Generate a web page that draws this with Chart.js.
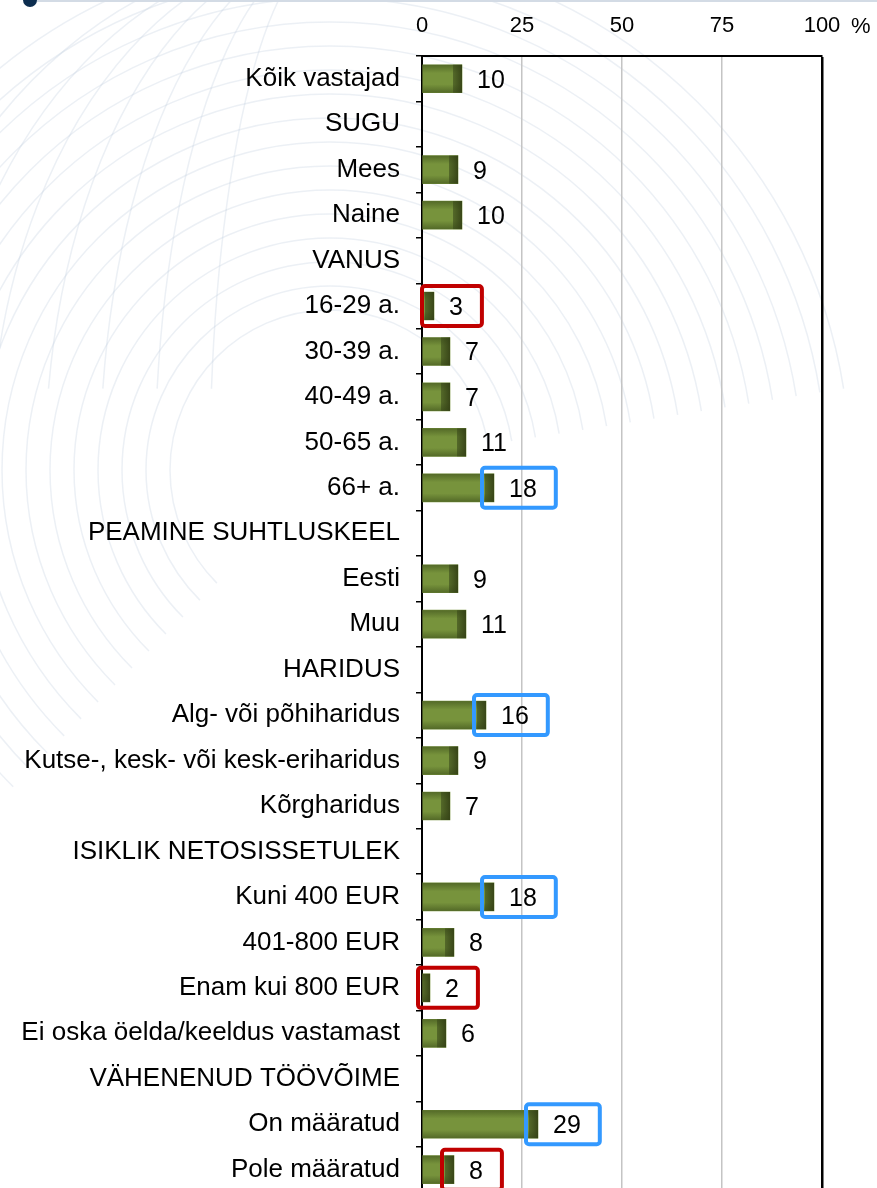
<!DOCTYPE html>
<html>
<head>
<meta charset="utf-8">
<script src="https://cdn.jsdelivr.net/npm/chart.js@4"></script>
<style>
	body { margin: 0; background: #fff; overflow: hidden; }
	#wrap { width: 877px; height: 1224px; }
</style>
</head>
<body>
<div id="wrap"><canvas id="share" width="877" height="1224"></canvas></div>
<script>
const categories = [
	"Kõik vastajad", "SUGU", "Mees", "Naine", "VANUS",
	"16-29 a.", "30-39 a.", "40-49 a.", "50-65 a.", "66+ a.",
	"PEAMINE SUHTLUSKEEL", "Eesti", "Muu", "HARIDUS",
	"Alg- või põhiharidus", "Kutse-, kesk- või kesk-eriharidus", "Kõrgharidus",
	"ISIKLIK NETOSISSETULEK", "Kuni 400 EUR", "401-800 EUR", "Enam kui 800 EUR",
	"Ei oska öelda/keeldus vastamast", "VÄHENENUD TÖÖVÕIME",
	"On määratud", "Pole määratud",
];
const values = [
	10, null, 9, 10, null,
	3, 7, 7, 11, 18,
	null, 9, 11, null,
	16, 9, 7,
	null, 18, 8, 2,
	6, null,
	29, 8,
];
const xTicks = [0, 25, 50, 75, 100];
// groups marked as clearly below / above average
const lowGroups = ["16-29 a.", "Enam kui 800 EUR", "Pole määratud"];
const highGroups = ["66+ a.", "Alg- või põhiharidus", "Kuni 400 EUR", "On määratud"];

const FONT = "Arial, 'Liberation Sans', sans-serif";

const decor = {
	id: "decor",
	beforeDraw(chart) {
		const c = chart.ctx;
		c.save();
		c.strokeStyle = "rgba(185,200,218,0.28)";
		c.lineWidth = 1.5;
		for (let r = 160; r <= 520; r += 24) {
			c.beginPath();
			c.arc(330, 470, r, Math.PI * 0.75, Math.PI * 1.95);
			c.stroke();
		}
		for (let i = 0; i < 7; i++) {
			c.beginPath();
			c.ellipse(330, 470, 120 + i * 55, 520, 0, Math.PI * 1.05, Math.PI * 1.6);
			c.stroke();
		}
		c.strokeStyle = "#d3dbe5";
		c.lineWidth = 2;
		c.beginPath();
		c.moveTo(30, 1);
		c.lineTo(877, 1);
		c.stroke();
		c.fillStyle = "#0c2d4f";
		c.beginPath();
		c.arc(30, 0, 7, 0, Math.PI * 2);
		c.fill();
		c.restore();
	},
	afterDatasetsDraw(chart) {
		const c = chart.ctx;
		const meta = chart.getDatasetMeta(0);
		c.save();
		c.font = "25px " + FONT;
		c.textBaseline = "middle";
		meta.data.forEach((bar, i) => {
			const v = values[i];
			if (v === null) return;
			const top = bar.y - bar.height / 2;
			const left = Math.min(bar.base, bar.x);
			const w = Math.abs(bar.x - bar.base);
			// shading on top and bottom
			const g = c.createLinearGradient(0, top, 0, top + bar.height);
			g.addColorStop(0, "rgba(40,55,15,0.45)");
			g.addColorStop(0.3, "rgba(40,55,15,0)");
			g.addColorStop(0.7, "rgba(40,55,15,0)");
			g.addColorStop(1, "rgba(40,55,15,0.45)");
			c.fillStyle = g;
			c.fillRect(left, top, w, bar.height);
			// dark end of the bar
			const e = Math.min(9, w);
			const h = c.createLinearGradient(bar.x - e, 0, bar.x, 0);
			h.addColorStop(0, "rgba(55,70,25,0.55)");
			h.addColorStop(1, "rgba(50,62,20,0.9)");
			c.fillStyle = h;
			c.fillRect(bar.x - e, top, e, bar.height);

			const txt = String(v);
			const tx = bar.x + 15;
			c.fillStyle = "#000";
			c.textAlign = "left";
			c.fillText(txt, tx, bar.y + 2);

			const name = categories[i];
			let col = null;
			if (lowGroups.includes(name)) col = "#c00000";
			if (highGroups.includes(name)) col = "#3399ff";
			if (col) {
				const tw = c.measureText(txt).width;
				const x0 = bar.x - 12;
				const x1 = tx + tw + 19;
				c.strokeStyle = col;
				c.lineWidth = 4;
				c.beginPath();
				c.roundRect(x0, bar.y - 20, x1 - x0, 40, 3);
				c.stroke();
			}
		});
		// percent sign next to the last tick
		const xs = chart.scales.x;
		c.font = "22px " + FONT;
		c.textAlign = "left";
		c.textBaseline = "alphabetic";
		c.fillStyle = "#000";
		c.fillText("%", xs.getPixelForValue(100) + 29, 33);
		c.restore();
	},
};

new Chart(document.getElementById("share"), {
	type: "bar",
	data: {
		labels: categories,
		datasets: [
			{
				data: values,
				backgroundColor: "#77933c",
				barThickness: 28,
				borderWidth: 0,
			},
		],
	},
	options: {
		indexAxis: "y",
		responsive: false,
		animation: false,
		layout: { padding: { right: 55, bottom: 10, left: 0, top: 0 } },
		plugins: {
			legend: { display: false },
			tooltip: { enabled: false },
		},
		scales: {
			x: {
				position: "top",
				min: 0,
				max: 100,
				afterFit(scale) { scale.height = 56; },
				afterBuildTicks(scale) {
					scale.ticks = xTicks.map((v) => ({ value: v }));
				},
				ticks: {
					color: "#000",
					font: { size: 22, family: FONT },
					padding: 17,
					maxRotation: 0,
				},
				grid: {
					drawTicks: false,
					color: (ctx) => {
						const v = ctx.tick && ctx.tick.value;
						if (v === 0) return "rgba(0,0,0,0)";
						if (v === 100) return "#000";
						return "#c4c4c4";
					},
					lineWidth: (ctx) => (ctx.tick && ctx.tick.value === 100 ? 2.5 : 1.5),
				},
				border: { color: "#000", width: 2 },
			},
			y: {
				afterFit(scale) { scale.width = 422; },
				ticks: {
					color: "#000",
					font: { size: 26, family: FONT },
					padding: 16,
					autoSkip: false,
				},
				grid: {
					offset: true,
					drawOnChartArea: false,
					color: "#000",
					tickLength: 6,
					lineWidth: 1.5,
				},
				border: { color: "#000", width: 2 },
			},
		},
	},
	plugins: [decor],
});
</script>
</body>
</html>
